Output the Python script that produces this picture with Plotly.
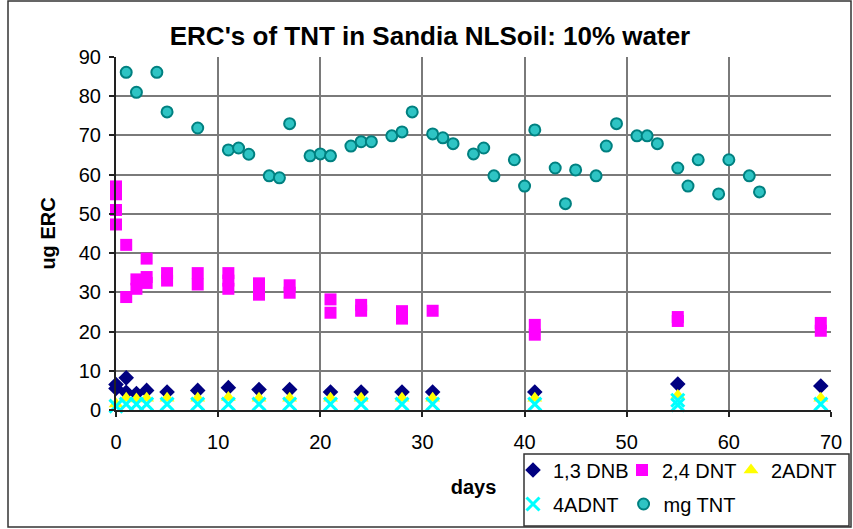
import plotly.graph_objects as go

# ---- data ----
days_dnb = [0, 0, 1, 1, 2, 3, 5, 8, 11, 14, 17, 21, 24, 28, 31, 41, 55, 69]
dnb = [6.5, 5.5, 8.2, 4.5, 4.2, 5.0, 4.6, 5.0, 5.7, 5.2, 5.2, 4.6, 4.6, 4.6, 4.6, 4.6, 6.6, 6.1]

days_dnt = [0, 0, 0, 0, 1, 1, 2, 2, 3, 3, 3, 5, 5, 8, 8, 11, 11, 11,
            14, 14, 17, 17, 21, 21, 24, 24, 28, 28, 31, 41, 41, 55, 55, 69, 69]
dnt = [57.0, 55.0, 51.0, 47.3, 42.1, 28.8, 33.3, 30.9, 38.6, 33.9, 32.4, 34.9, 33.0,
       34.9, 32.0, 34.9, 33.0, 30.9, 32.3, 29.4, 31.8, 29.9, 28.2, 24.8, 26.8, 25.3,
       25.2, 23.3, 25.3, 21.7, 19.2, 23.7, 22.7, 22.2, 20.2]

days_2a = [0, 1, 2, 3, 5, 8, 11, 14, 17, 21, 24, 28, 31, 41, 55, 69]
adnt2 = [1.5, 3.0, 2.8, 3.0, 3.0, 3.0, 3.2, 3.0, 3.0, 3.0, 3.0, 3.0, 3.0, 3.0, 3.7, 3.0]

days_4a = [0, 1, 2, 3, 5, 8, 11, 14, 17, 21, 24, 28, 31, 41, 55, 55, 69]
adnt4 = [1.0, 1.5, 1.5, 1.5, 1.5, 1.5, 1.5, 1.5, 1.5, 1.5, 1.5, 1.5, 1.5, 1.5, 2.5, 1.3, 1.5]

days_tnt = [1, 2, 4, 5, 8, 11, 12, 13, 15, 16, 17, 19, 20, 21, 23, 24, 25, 27, 28, 29,
            31, 32, 33, 35, 36, 37, 39, 40, 41, 43, 44, 45, 47, 48, 49, 51, 52, 53,
            55, 56, 57, 59, 60, 62, 63]
tnt = [86.1, 81.0, 86.1, 76.0, 71.9, 66.3, 66.8, 65.2, 59.7, 59.2, 73.0, 64.8, 65.3,
       64.8, 67.3, 68.4, 68.4, 69.9, 70.9, 76.0, 70.4, 69.4, 67.9, 65.3, 66.8, 59.7,
       63.8, 57.1, 71.4, 61.7, 52.6, 61.2, 59.7, 67.3, 73.0, 69.9, 69.9, 67.9, 61.7,
       57.1, 63.8, 55.1, 63.8, 59.7, 55.6]

x_ticks = [0, 10, 20, 30, 40, 50, 60, 70]
y_ticks = [0, 10, 20, 30, 40, 50, 60, 70, 80, 90]

FONT = "Arial, Liberation Sans, sans-serif"
W, H = 853, 529
L, R, T, B = 116, 22, 57, 119

fig = go.Figure()
fig.add_trace(go.Scatter(x=days_dnb, y=dnb, mode="markers", name="1,3 DNB",
                         marker=dict(symbol="diamond", size=12, color="#000080"),
                         cliponaxis=False, legend="legend"))
fig.add_trace(go.Scatter(x=days_dnt, y=dnt, mode="markers", name="2,4 DNT",
                         marker=dict(symbol="square", size=12, color="#FF00FF"),
                         cliponaxis=False, legend="legend"))
fig.add_trace(go.Scatter(x=days_2a, y=adnt2, mode="markers", name="2ADNT",
                         marker=dict(symbol="triangle-up", size=13, color="#FFFF00"),
                         cliponaxis=False, legend="legend"))
fig.add_trace(go.Scatter(x=days_4a, y=adnt4, mode="markers", name="4ADNT",
                         marker=dict(symbol="x-thin", size=13, color="#00FFFF",
                                     line=dict(color="#00FFFF", width=3)),
                         cliponaxis=False, legend="legend2"))
fig.add_trace(go.Scatter(x=days_tnt, y=tnt, mode="markers", name="mg TNT",
                         marker=dict(symbol="circle", size=11, color="#2EC4C4",
                                     line=dict(color="#008080", width=2)),
                         cliponaxis=False, legend="legend2"))

pw, ph = W - L - R, H - T - B
def px2x(px):
    return (px - L) / pw
def py2y(py):
    return (H - B - py) / ph

leg_common = dict(orientation="h", xanchor="left", yanchor="middle",
                  borderwidth=0, bgcolor="rgba(0,0,0,0)",
                  font=dict(size=20, family=FONT), itemsizing="trace",
                  entrywidthmode="pixels", tracegroupgap=0)

fig.update_layout(
    width=W, height=H,
    margin=dict(l=L, r=R, t=T, b=B, autoexpand=False),
    paper_bgcolor="white", plot_bgcolor="white",
    font=dict(family=FONT, size=20, color="black"),
    title=dict(text="<b>ERC's of TNT in Sandia NLSoil: 10% water</b>",
               x=430 / W, xanchor="center", y=1 - 36 / H, yanchor="middle",
               font=dict(size=26, family=FONT)),
    xaxis=dict(range=[0, 70], tickvals=x_ticks, ticktext=[str(v) for v in x_ticks],
               showgrid=True, gridcolor="#7a7a7a", gridwidth=1.5,
               showline=True, linecolor="#222", linewidth=2,
               ticks="outside", ticklen=5, tickcolor="#222", tickwidth=1.5,
               ticklabelstandoff=8,
               zeroline=False, automargin=False,
               title=dict(text="<b>days</b>", standoff=28, font=dict(size=20))),
    yaxis=dict(range=[0, 90], tickvals=y_ticks, ticktext=[str(v) for v in y_ticks],
               showgrid=True, gridcolor="#7a7a7a", gridwidth=1.5,
               showline=True, linecolor="#222", linewidth=2,
               ticks="outside", ticklen=5, tickcolor="#222", tickwidth=1.5,
               ticklabelstandoff=4,
               zeroline=False, automargin=False,
               title=dict(text="<b>ug ERC</b>", standoff=18, font=dict(size=20))),
    legend=dict(x=px2x(513), y=py2y(470), entrywidth=64, **leg_common),
    legend2=dict(x=px2x(513), y=py2y(504), entrywidth=0, **leg_common),
    shapes=[dict(type="rect", xref="paper", yref="paper",
                 x0=px2x(8), x1=px2x(851), y0=py2y(527), y1=py2y(1),
                 line=dict(color="#333", width=1.5), layer="below"),
            dict(type="rect", xref="paper", yref="paper",
                 x0=px2x(524), x1=px2x(849), y0=py2y(526), y1=py2y(454),
                 line=dict(color="#333", width=1.5), layer="below")],
    showlegend=True,
)

fig.write_html("out.html", config={"displayModeBar": False},
               post_script="document.body.style.margin='0';document.body.style.overflow='hidden';")
